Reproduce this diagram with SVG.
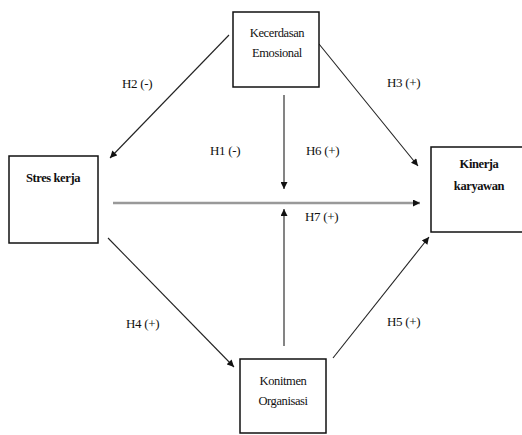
<svg xmlns="http://www.w3.org/2000/svg" width="522" height="435" viewBox="0 0 522 435">
<style>
.box{fill:#fff;stroke:#111;stroke-width:1.5}
.t{font-family:'Liberation Serif','DejaVu Serif',serif;font-size:12.5px;fill:#111;text-anchor:middle;letter-spacing:-0.4px}
.b{font-weight:bold}
.lbl{font-family:'Liberation Serif','DejaVu Serif',serif;font-size:13px;fill:#111;letter-spacing:-0.3px}
.ln{stroke:#222;stroke-width:1.1;fill:none}
.gr{stroke:#999;stroke-width:2.5;fill:none}
.gv{stroke:#777;stroke-width:1.8;fill:none}
</style>
<defs>
<marker id="ah" viewBox="0 0 10 10" refX="10" refY="5" markerWidth="8" markerHeight="7" markerUnits="userSpaceOnUse" orient="auto"><path d="M0,0 L10,5 L0,10 z" fill="#111"/></marker>
</defs>
<rect width="522" height="435" fill="#fff"/>
<g id="connectors">
<line class="ln" x1="229" y1="35" x2="110" y2="158" marker-end="url(#ah)"/>
<line class="ln" x1="319" y1="44" x2="418" y2="166" marker-end="url(#ah)"/>
<line class="gv" x1="284" y1="95" x2="284" y2="189" marker-end="url(#ah)"/>
<line class="gr" x1="113" y1="203" x2="420" y2="203" marker-end="url(#ah)"/>
<line class="gv" x1="284" y1="346" x2="284" y2="209" marker-end="url(#ah)"/>
<line class="ln" x1="108" y1="238" x2="234" y2="367" marker-end="url(#ah)"/>
<line class="ln" x1="333" y1="358" x2="429" y2="237" marker-end="url(#ah)"/>
</g>
<g id="labels">
<text class="lbl" x="122" y="88">H2 (-)</text>
<text class="lbl" x="387" y="87">H3 (+)</text>
<text class="lbl" x="210" y="155">H1 (-)</text>
<text class="lbl" x="306" y="155">H6 (+)</text>
<text class="lbl" x="305" y="221">H7 (+)</text>
<text class="lbl" x="126" y="328">H4 (+)</text>
<text class="lbl" x="387" y="326">H5 (+)</text>
</g>
<g id="kecerdasan">
<rect class="box" x="233" y="12" width="86" height="75"/>
<text class="t" x="277" y="37">Kecerdasan</text>
<text class="t" x="277" y="57">Emosional</text>
</g>
<g id="stres">
<rect class="box" x="9" y="156" width="89" height="87"/>
<text class="t b" x="53" y="182">Stres kerja</text>
</g>
<g id="kinerja">
<rect class="box" x="431" y="147" width="92" height="85"/>
<text class="t b" x="479" y="168">Kinerja</text>
<text class="t b" x="479" y="190">karyawan</text>
</g>
<g id="komitmen">
<rect class="box" x="240" y="359" width="86" height="74"/>
<text class="t" x="283" y="385">Konitmen</text>
<text class="t" x="283" y="405">Organisasi</text>
</g>
</svg>
